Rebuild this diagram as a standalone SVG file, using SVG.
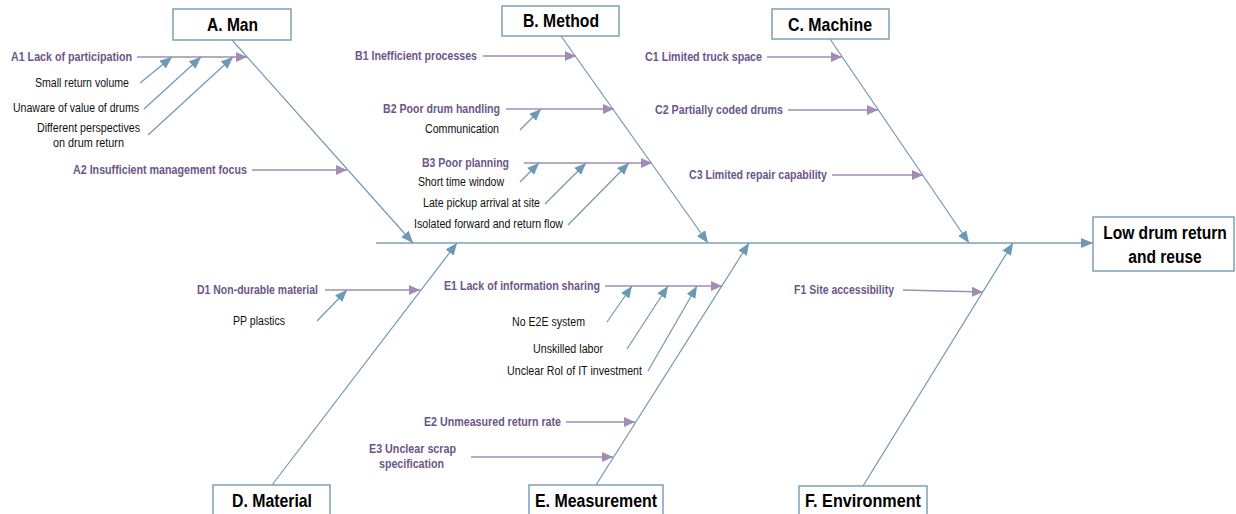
<svg xmlns="http://www.w3.org/2000/svg" width="1236" height="514" viewBox="0 0 1236 514">
  <defs>
    <style>
      .box { fill: #ffffff; stroke: #7ba1b8; stroke-width: 1.5; }
      .head { font-family: "Liberation Sans Narrow", "Arial Narrow", "Liberation Sans", Arial, sans-serif; font-weight: bold; font-size: 19px; fill: #000000; }
      .wide { font-family: "Liberation Sans", Arial, sans-serif; font-weight: bold; font-size: 19px; fill: #000000; text-anchor: middle; }
      .cause { font-family: "Liberation Sans Narrow", "Arial Narrow", "Liberation Sans", Arial, sans-serif; font-weight: bold; font-size: 12px; fill: #6c5688; }
      .sub { font-family: "Liberation Sans Narrow", "Arial Narrow", "Liberation Sans", Arial, sans-serif; font-size: 12px; fill: #111111; }
      .bone { stroke: #6e99b3; stroke-width: 1.2; fill: none; marker-end: url(#headBlue); }
      .spine { stroke: #7ba1b8; stroke-width: 1.5; fill: none; marker-end: url(#headBlue); }
      .carr { stroke: #a08cb4; stroke-width: 1.5; fill: none; marker-end: url(#headPurple); }
      .sarr { stroke: #6e99b3; stroke-width: 1.2; fill: none; marker-end: url(#headBlue); }
    </style>
    <marker id="headBlue" markerUnits="userSpaceOnUse" markerWidth="12" markerHeight="10" refX="12" refY="5" orient="auto">
      <path d="M0,0 L12,5 L0,10 z" fill="#6e99b3"/>
    </marker>
    <marker id="headPurple" markerUnits="userSpaceOnUse" markerWidth="11" markerHeight="10" refX="11" refY="5" orient="auto">
      <path d="M0,0 L11,5 L0,10 z" fill="#a08cb4"/>
    </marker>
  </defs>

  <rect width="1236" height="514" fill="#ffffff"/>

  <!-- connectors: spine, category bones, cause arrows, sub-cause arrows -->
  <g id="connectors">
    <line class="spine" x1="376" y1="243" x2="1093" y2="243"/>

    <line class="bone" x1="232" y1="40" x2="413" y2="243"/>
    <line class="bone" x1="561" y1="36" x2="708" y2="243"/>
    <line class="bone" x1="830" y1="39" x2="969" y2="243"/>
    <line class="bone" x1="272" y1="485" x2="457" y2="243"/>
    <line class="bone" x1="596" y1="485" x2="749" y2="243"/>
    <line class="bone" x1="863" y1="486" x2="1013" y2="243"/>

    <!-- A causes -->
    <line class="carr" x1="137" y1="57" x2="247" y2="57"/>
    <line class="carr" x1="252" y1="170" x2="347" y2="170"/>
    <line class="sarr" x1="140" y1="83" x2="172" y2="57"/>
    <line class="sarr" x1="144" y1="109" x2="201" y2="57"/>
    <line class="sarr" x1="148" y1="135" x2="233" y2="57"/>

    <!-- B causes -->
    <line class="carr" x1="483" y1="56" x2="576" y2="56"/>
    <line class="carr" x1="506" y1="109" x2="614" y2="109"/>
    <line class="carr" x1="524" y1="163" x2="652" y2="163"/>
    <line class="sarr" x1="520" y1="130" x2="541" y2="109"/>
    <line class="sarr" x1="520" y1="182" x2="539" y2="163"/>
    <line class="sarr" x1="545" y1="204" x2="586" y2="163"/>
    <line class="sarr" x1="568" y1="225" x2="629" y2="163"/>

    <!-- C causes -->
    <line class="carr" x1="767" y1="57" x2="842" y2="57"/>
    <line class="carr" x1="788" y1="110" x2="878" y2="110"/>
    <line class="carr" x1="832" y1="175" x2="923" y2="175"/>

    <!-- D causes -->
    <line class="carr" x1="325" y1="290" x2="420" y2="290"/>
    <line class="sarr" x1="317" y1="321" x2="347" y2="290"/>

    <!-- E causes -->
    <line class="carr" x1="605" y1="286" x2="722" y2="286"/>
    <line class="carr" x1="566" y1="422" x2="635" y2="422"/>
    <line class="carr" x1="471" y1="457" x2="613" y2="457"/>
    <line class="sarr" x1="607" y1="322" x2="632" y2="286"/>
    <line class="sarr" x1="627" y1="349" x2="668" y2="286"/>
    <line class="sarr" x1="648" y1="371" x2="697" y2="286"/>

    <!-- F causes -->
    <line class="carr" x1="903" y1="290" x2="983" y2="292"/>
  </g>

  <!-- category boxes -->
  <g id="node-man">
    <rect class="box" x="173" y="9" width="118" height="31"/>
    <text class="head" x="207" y="31" textLength="51" lengthAdjust="spacingAndGlyphs">A. Man</text>
  </g>
  <g id="node-method">
    <rect class="box" x="502" y="6" width="117" height="30"/>
    <text class="head" x="523" y="27" textLength="76" lengthAdjust="spacingAndGlyphs">B. Method</text>
  </g>
  <g id="node-machine">
    <rect class="box" x="772" y="9" width="117" height="30"/>
    <text class="head" x="788" y="31" textLength="84" lengthAdjust="spacingAndGlyphs">C. Machine</text>
  </g>
  <g id="node-material">
    <rect class="box" x="213" y="485" width="117" height="40"/>
    <text class="head" x="232" y="507" textLength="80" lengthAdjust="spacingAndGlyphs">D. Material</text>
  </g>
  <g id="node-measurement">
    <rect class="box" x="529" y="485" width="134" height="40"/>
    <text class="head" x="535" y="507" textLength="122" lengthAdjust="spacingAndGlyphs">E. Measurement</text>
  </g>
  <g id="node-environment">
    <rect class="box" x="799" y="486" width="128" height="40"/>
    <text class="head" x="805" y="507" textLength="116" lengthAdjust="spacingAndGlyphs">F. Environment</text>
  </g>

  <!-- effect: condensed by a horizontal scale -->
  <g id="node-effect">
    <rect class="box" x="1093" y="217" width="141" height="54"/>
    <text class="wide" transform="translate(1165 239) scale(0.82 1)" x="0" y="0">Low drum return</text>
    <text class="wide" transform="translate(1165 263) scale(0.82 1)" x="0" y="0">and reuse</text>
  </g>

  <!-- causes -->
  <g id="cause-a1"><text class="cause" x="11" y="61" textLength="121" lengthAdjust="spacingAndGlyphs">A1 Lack of participation</text></g>
  <g id="cause-a1-1"><text class="sub" x="35" y="87" textLength="94" lengthAdjust="spacingAndGlyphs">Small return volume</text></g>
  <g id="cause-a1-2"><text class="sub" x="13" y="112" textLength="126" lengthAdjust="spacingAndGlyphs">Unaware of value of drums</text></g>
  <g id="cause-a1-3">
    <text class="sub" x="37" y="132" textLength="103" lengthAdjust="spacingAndGlyphs">Different perspectives</text>
    <text class="sub" x="53" y="147" textLength="71" lengthAdjust="spacingAndGlyphs">on drum return</text>
  </g>
  <g id="cause-a2"><text class="cause" x="73" y="174" textLength="174" lengthAdjust="spacingAndGlyphs">A2 Insufficient management focus</text></g>

  <g id="cause-b1"><text class="cause" x="355" y="60" textLength="122" lengthAdjust="spacingAndGlyphs">B1 Inefficient processes</text></g>
  <g id="cause-b2"><text class="cause" x="383" y="113" textLength="117" lengthAdjust="spacingAndGlyphs">B2 Poor drum handling</text></g>
  <g id="cause-b2-1"><text class="sub" x="425" y="133" textLength="74" lengthAdjust="spacingAndGlyphs">Communication</text></g>
  <g id="cause-b3"><text class="cause" x="422" y="167" textLength="87" lengthAdjust="spacingAndGlyphs">B3 Poor planning</text></g>
  <g id="cause-b3-1"><text class="sub" x="418" y="186" textLength="86" lengthAdjust="spacingAndGlyphs">Short time window</text></g>
  <g id="cause-b3-2"><text class="sub" x="423" y="207" textLength="117" lengthAdjust="spacingAndGlyphs">Late pickup arrival at site</text></g>
  <g id="cause-b3-3"><text class="sub" x="414" y="228" textLength="149" lengthAdjust="spacingAndGlyphs">Isolated forward and return flow</text></g>

  <g id="cause-c1"><text class="cause" x="645" y="61" textLength="117" lengthAdjust="spacingAndGlyphs">C1 Limited truck space</text></g>
  <g id="cause-c2"><text class="cause" x="655" y="114" textLength="128" lengthAdjust="spacingAndGlyphs">C2 Partially coded drums</text></g>
  <g id="cause-c3"><text class="cause" x="689" y="179" textLength="138" lengthAdjust="spacingAndGlyphs">C3 Limited repair capability</text></g>

  <g id="cause-d1"><text class="cause" x="197" y="294" textLength="121" lengthAdjust="spacingAndGlyphs">D1 Non-durable material</text></g>
  <g id="cause-d1-1"><text class="sub" x="233" y="325" textLength="52" lengthAdjust="spacingAndGlyphs">PP plastics</text></g>

  <g id="cause-e1"><text class="cause" x="444" y="290" textLength="156" lengthAdjust="spacingAndGlyphs">E1 Lack of information sharing</text></g>
  <g id="cause-e1-1"><text class="sub" x="512" y="326" textLength="73" lengthAdjust="spacingAndGlyphs">No E2E system</text></g>
  <g id="cause-e1-2"><text class="sub" x="533" y="353" textLength="70" lengthAdjust="spacingAndGlyphs">Unskilled labor</text></g>
  <g id="cause-e1-3"><text class="sub" x="507" y="375" textLength="135" lengthAdjust="spacingAndGlyphs">Unclear RoI of IT investment</text></g>
  <g id="cause-e2"><text class="cause" x="424" y="426" textLength="137" lengthAdjust="spacingAndGlyphs">E2 Unmeasured return rate</text></g>
  <g id="cause-e3">
    <text class="cause" x="369" y="453" textLength="87" lengthAdjust="spacingAndGlyphs">E3 Unclear scrap</text>
    <text class="cause" x="379" y="468" textLength="65" lengthAdjust="spacingAndGlyphs">specification</text>
  </g>

  <g id="cause-f1"><text class="cause" x="794" y="294" textLength="100" lengthAdjust="spacingAndGlyphs">F1 Site accessibility</text></g>
</svg>
